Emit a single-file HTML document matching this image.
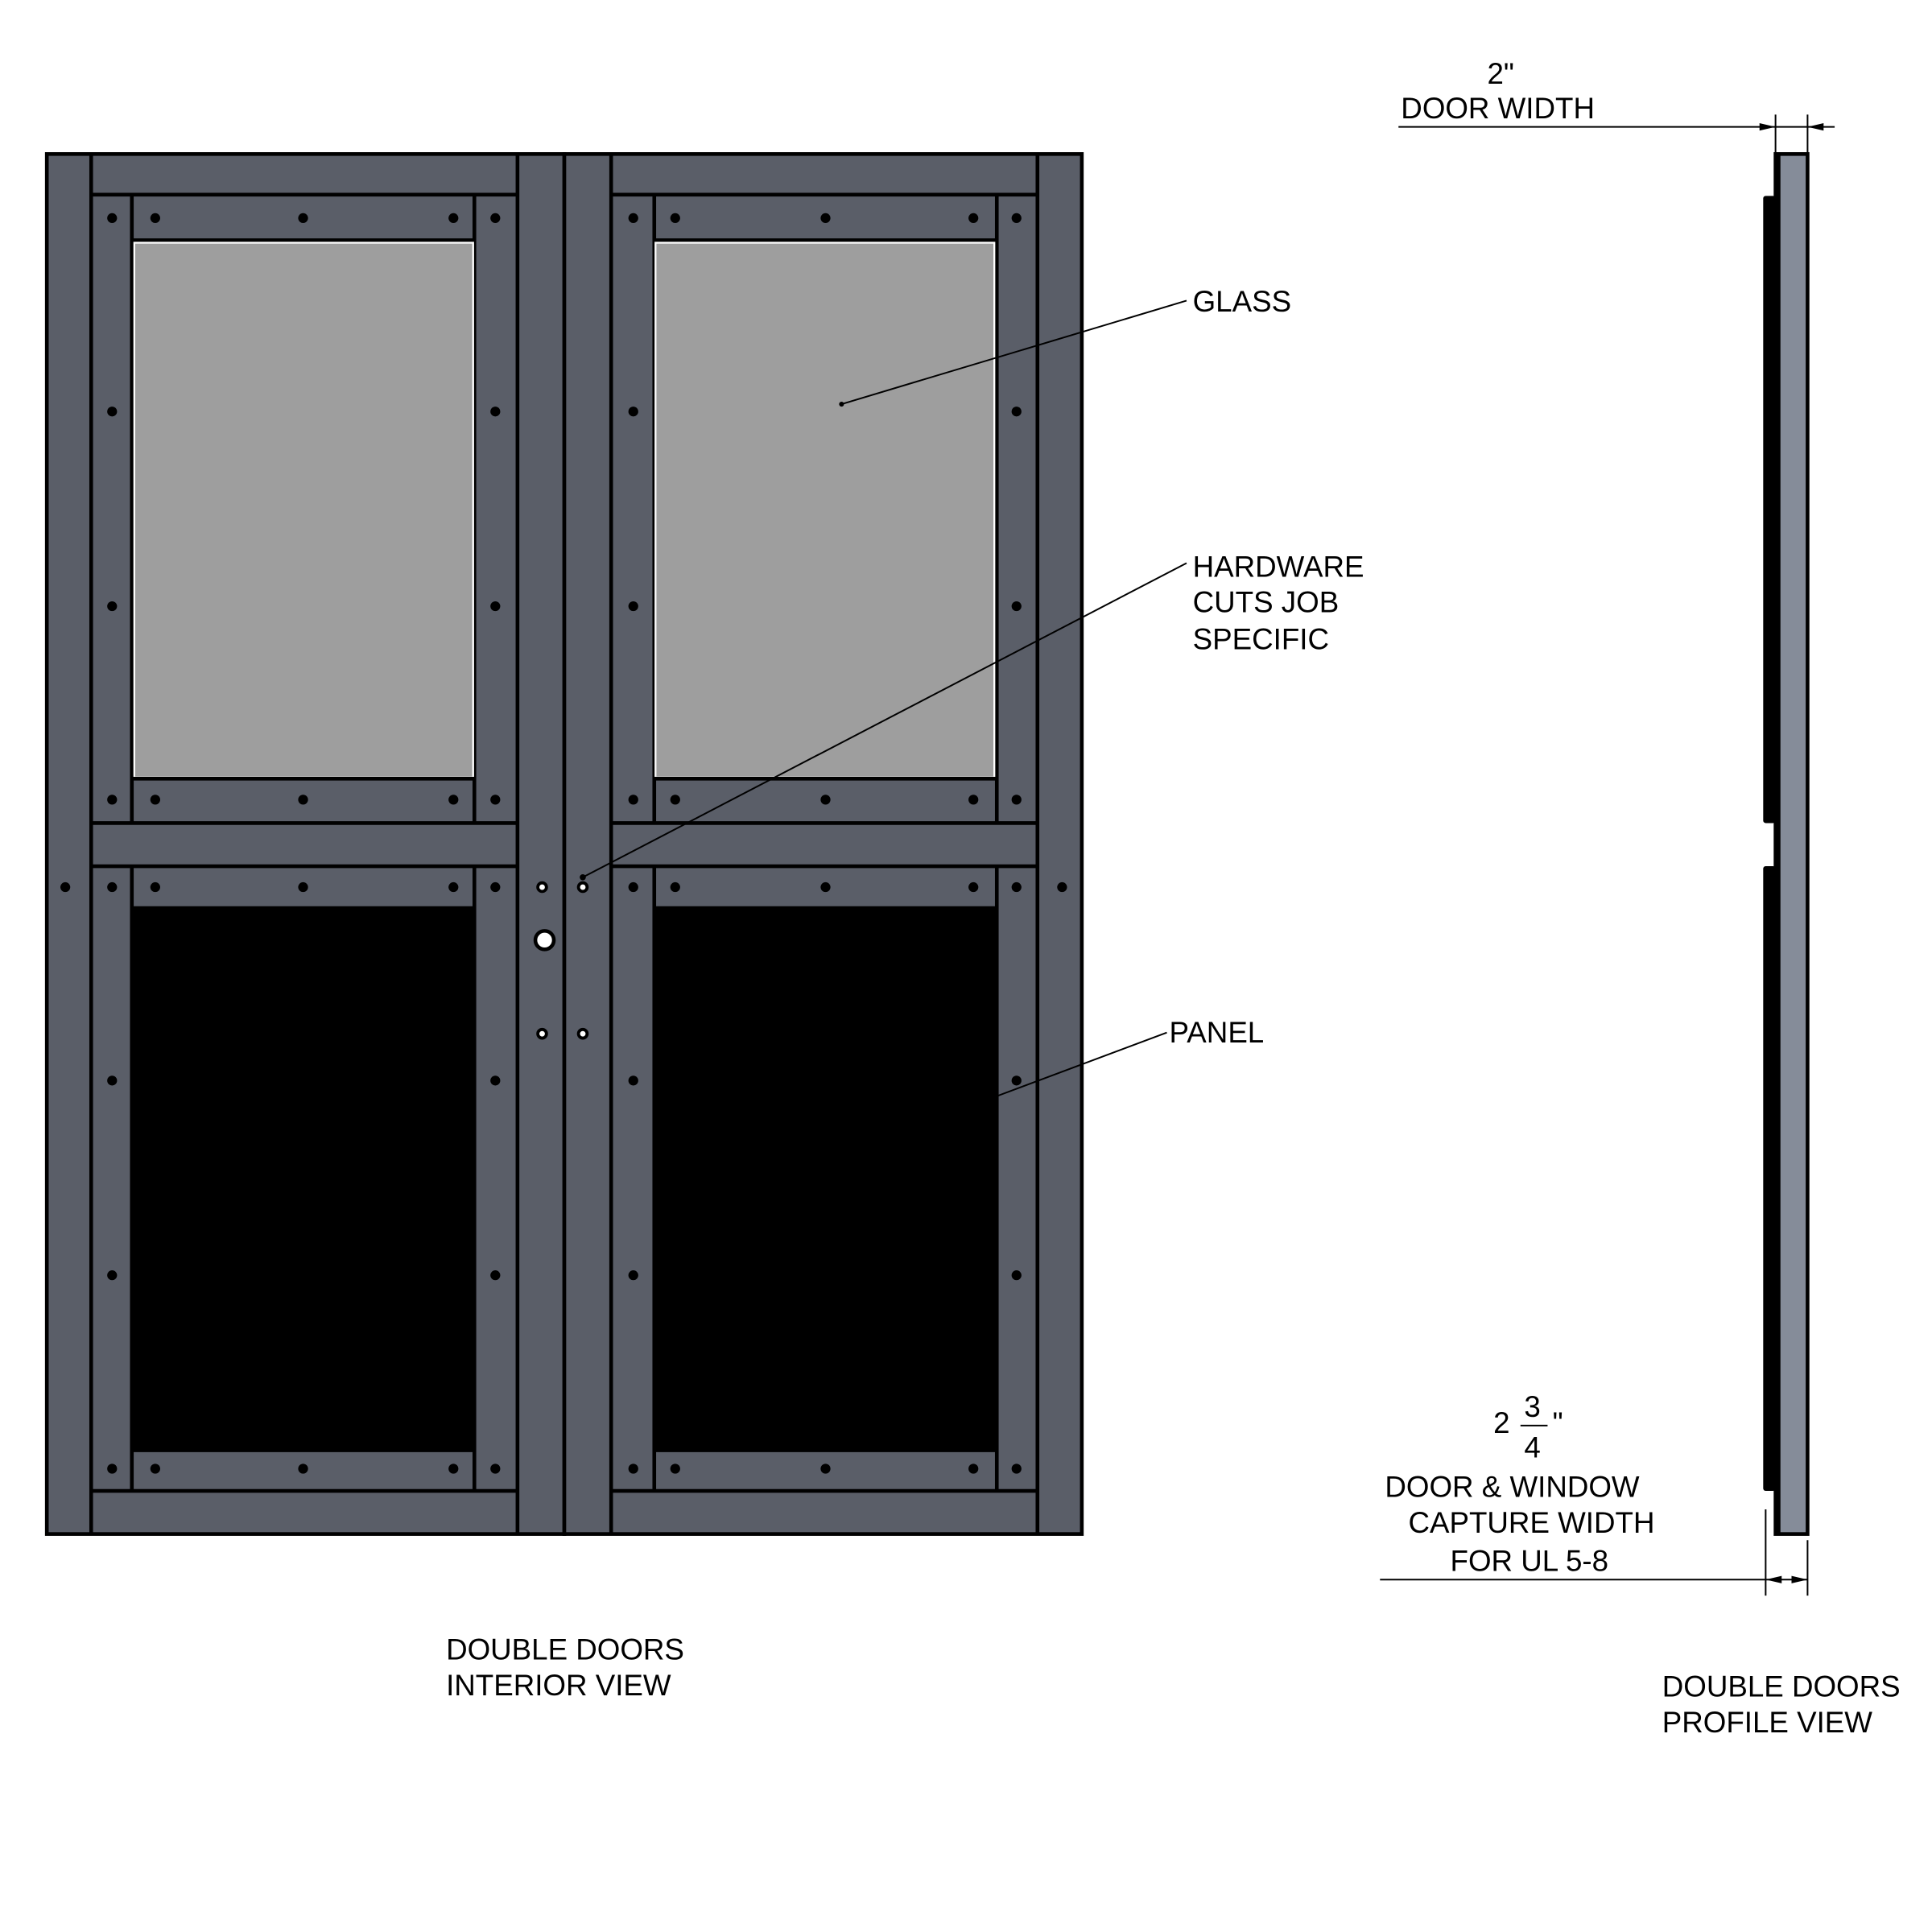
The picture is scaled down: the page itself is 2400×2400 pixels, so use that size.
<!DOCTYPE html>
<html><head><meta charset="utf-8"><style>
html,body{margin:0;padding:0;background:#fff}
svg{display:block}
text{font-family:"Liberation Sans",sans-serif;font-size:24px;fill:#000}
</style></head><body>
<svg width="2400" height="2400" viewBox="0 0 1568 1568" xmlns="http://www.w3.org/2000/svg">
<defs>
<g id="door">
  <rect x="0" y="0" width="420" height="1120" fill="#5a5e68" stroke="#000" stroke-width="3"/>
  <!-- stiles -->
  <line x1="36" y1="0" x2="36" y2="1120" stroke="#000" stroke-width="3"/>
  <line x1="382" y1="0" x2="382" y2="1120" stroke="#000" stroke-width="3"/>
  <!-- rails -->
  <line x1="36" y1="33" x2="382" y2="33" stroke="#000" stroke-width="3"/>
  <line x1="36" y1="543" x2="382" y2="543" stroke="#000" stroke-width="3"/>
  <line x1="36" y1="578" x2="382" y2="578" stroke="#000" stroke-width="3"/>
  <line x1="36" y1="1085" x2="382" y2="1085" stroke="#000" stroke-width="3"/>
  <!-- inner verticals -->
  <line x1="69" y1="33" x2="69" y2="543" stroke="#000" stroke-width="3"/>
  <line x1="347" y1="33" x2="347" y2="543" stroke="#000" stroke-width="3"/>
  <line x1="69" y1="578" x2="69" y2="1085" stroke="#000" stroke-width="3"/>
  <line x1="347" y1="578" x2="347" y2="1085" stroke="#000" stroke-width="3"/>
  <!-- top glass bars -->
  <line x1="69" y1="70" x2="347" y2="70" stroke="#000" stroke-width="3"/>
  <rect x="71" y="72" width="275" height="434" fill="#9e9e9e" stroke="#fff" stroke-width="1.5"/>
  <line x1="69" y1="507" x2="347" y2="507" stroke="#000" stroke-width="3"/>
  <!-- panel -->
  <line x1="69" y1="612" x2="347" y2="612" stroke="#000" stroke-width="3"/>
  <rect x="69" y="612" width="278" height="440" fill="#000"/>
  <line x1="69" y1="1052" x2="347" y2="1052" stroke="#000" stroke-width="3"/>
  <!-- screws -->
  <g fill="#000">
    <circle cx="53" cy="52" r="4"/><circle cx="364" cy="52" r="4"/>
    <circle cx="53" cy="209" r="4"/><circle cx="364" cy="209" r="4"/>
    <circle cx="53" cy="367" r="4"/><circle cx="364" cy="367" r="4"/>
    <circle cx="53" cy="524" r="4"/><circle cx="364" cy="524" r="4"/>
    <circle cx="88" cy="52" r="4"/><circle cx="208" cy="52" r="4"/><circle cx="330" cy="52" r="4"/>
    <circle cx="88" cy="524" r="4"/><circle cx="208" cy="524" r="4"/><circle cx="330" cy="524" r="4"/>
    <circle cx="53" cy="595" r="4"/><circle cx="364" cy="595" r="4"/>
    <circle cx="53" cy="752" r="4"/><circle cx="364" cy="752" r="4"/>
    <circle cx="53" cy="910" r="4"/><circle cx="364" cy="910" r="4"/>
    <circle cx="53" cy="1067" r="4"/><circle cx="364" cy="1067" r="4"/>
    <circle cx="88" cy="595" r="4"/><circle cx="208" cy="595" r="4"/><circle cx="330" cy="595" r="4"/>
    <circle cx="88" cy="1067" r="4"/><circle cx="208" cy="1067" r="4"/><circle cx="330" cy="1067" r="4"/>
  </g>
</g>
</defs>
<!-- left door -->
<use href="#door" transform="translate(38,125)"/>
<!-- right door mirrored -->
<use href="#door" transform="translate(878,125) scale(-1,1)"/>
<!-- stile screws -->
<circle cx="53" cy="720" r="4" fill="#000"/>
<circle cx="862" cy="720" r="4" fill="#000"/>
<!-- hardware -->
<g stroke="#000" stroke-width="2.5" fill="#fff">
  <circle cx="440" cy="720" r="3.5"/><circle cx="473" cy="720" r="3.5"/>
  <circle cx="440" cy="839" r="3.5"/><circle cx="473" cy="839" r="3.5"/>
  <circle cx="442" cy="763" r="7.5" stroke-width="3"/>
</g>
<!-- leaders -->
<g stroke="#000" stroke-width="1.3" fill="none">
  <line x1="683" y1="328" x2="963" y2="244"/>
  <line x1="473" y1="712" x2="963" y2="457"/>
  <line x1="808" y1="890" x2="947" y2="838"/>
</g>
<circle cx="683" cy="328" r="2" fill="#000"/>
<circle cx="473" cy="712" r="2.5" fill="#000"/>
<text x="968" y="253">GLASS</text>
<text x="968" y="468">HARDWARE</text>
<text x="968" y="497">CUTS JOB</text>
<text x="968" y="527">SPECIFIC</text>
<text x="949" y="846">PANEL</text>
<text x="362" y="1347">DOUBLE DOORS</text>
<text x="362" y="1376">INTERIOR VIEW</text>
<!-- profile view -->
<rect x="1441" y="125" width="26" height="1120" fill="#858c99" stroke="#000" stroke-width="3"/>
<line x1="1443" y1="125" x2="1443" y2="1245" stroke="#000" stroke-width="4"/>
<rect x="1431" y="159" width="10" height="509" rx="2" fill="#000"/>
<rect x="1431" y="703" width="10" height="507" rx="2" fill="#000"/>
<!-- top dimension -->
<g stroke="#000" stroke-width="1.3">
  <line x1="1135" y1="103" x2="1489" y2="103"/>
  <line x1="1441" y1="93" x2="1441" y2="124"/>
  <line x1="1467" y1="93" x2="1467" y2="124"/>
  <line x1="1120" y1="1282" x2="1467" y2="1282"/>
  <line x1="1433" y1="1225" x2="1433" y2="1295"/>
  <line x1="1467" y1="1250" x2="1467" y2="1295"/>
</g>
<g fill="#000">
  <polygon points="1441,103 1428,100 1428,106"/>
  <polygon points="1467,103 1480,100 1480,106"/>
  <polygon points="1433,1282 1446,1279 1446,1285"/>
  <polygon points="1467,1282 1454,1279 1454,1285"/>
</g>
<text x="1207" y="68">2"</text>
<text x="1137" y="96">DOOR WIDTH</text>
<text x="1212" y="1163">2</text>
<text x="1237" y="1150" font-size="20">3</text>
<line x1="1234" y1="1157" x2="1256" y2="1157" stroke="#000" stroke-width="1.3"/>
<text x="1237" y="1183" font-size="20">4</text>
<text x="1260" y="1163" font-size="16">"</text>
<text x="1124" y="1215">DOOR &amp; WINDOW</text>
<text x="1143" y="1244">CAPTURE WIDTH</text>
<text x="1177" y="1275">FOR UL 5-8</text>
<text x="1349" y="1377">DOUBLE DOORS</text>
<text x="1349" y="1406">PROFILE VIEW</text>
</svg>
</body></html>
